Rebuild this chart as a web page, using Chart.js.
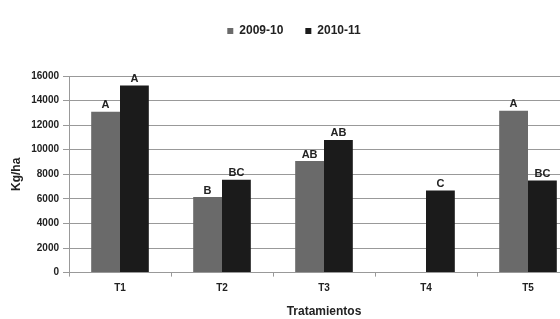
<!DOCTYPE html>
<html>
<head>
<meta charset="utf-8">
<script src="https://cdn.jsdelivr.net/npm/chart.js@4/dist/chart.umd.min.js"></script>
<style>
  html, body { margin: 0; padding: 0; background: #fff; overflow: hidden; }
  #wrap { width: 580px; height: 319px; }
</style>
</head>
<body>
<div id="wrap"><canvas id="chart" width="580" height="319"></canvas></div>
<script>
const categories = ["T1", "T2", "T3", "T4", "T5"]
const season2009 = [13100, 6150, 9080, null, 13180]
const season2010 = [15230, 7550, 10800, 6680, 7500]
const letters2009 = ["A", "B", "AB", "", "A"]
const letters2010 = ["A", "BC", "AB", "C", "BC"]
const yTicks = [0, 2000, 4000, 6000, 8000, 10000, 12000, 14000, 16000]

const FONT = "'Liberation Sans', Arial, sans-serif"

// push the plot down below the legend, like the original
const legendGap = {
  id: "legendGap",
  beforeInit(chart) {
    const fit = chart.legend.fit
    chart.legend.fit = function () {
      fit.bind(chart.legend)()
      this.height += 29
    }
  }
}

const letterLabels = {
  id: "letterLabels",
  afterDatasetsDraw(chart) {
    const ctx = chart.ctx
    const sets = [letters2009, letters2010]
    ctx.save()
    ctx.font = "bold 11px " + FONT
    ctx.fillStyle = "#222"
    ctx.textAlign = "center"
    ctx.textBaseline = "bottom"
    chart.data.datasets.forEach((ds, i) => {
      const meta = chart.getDatasetMeta(i)
      meta.data.forEach((bar, j) => {
        if (ds.data[j] == null || !sets[i][j]) return
        ctx.fillText(sets[i][j], bar.x, bar.y - 1)
      })
    })
    ctx.restore()
  }
}

new Chart(document.getElementById("chart"), {
  type: "bar",
  data: {
    labels: categories,
    datasets: [
      {
        label: "2009-10",
        data: season2009,
        backgroundColor: "#6a6a6a",
        barPercentage: 1,
        categoryPercentage: 0.565,
      },
      {
        label: "2010-11",
        data: season2010,
        backgroundColor: "#1b1b1b",
        barPercentage: 1,
        categoryPercentage: 0.565,
      },
    ],
  },
  options: {
    responsive: false,
    animation: false,
    layout: { padding: { top: 3, right: 1, left: 9, bottom: 0 } },
    plugins: {
      legend: {
        position: "top",
        labels: {
          boxWidth: 6,
          boxHeight: 6,
          padding: 22,
          color: "#222",
          font: { family: FONT, size: 12, weight: "bold" },
        },
      },
      tooltip: { enabled: false },
    },
    scales: {
      x: {
        grid: {
          offset: true,
          drawOnChartArea: false,
          drawTicks: true,
          tickLength: 4,
          color: "#999",
        },
        border: { color: "#999" },
        ticks: {
          color: "#222",
          padding: 6,
          font: { family: FONT, size: 10, weight: "bold" },
        },
        title: {
          display: true,
          text: "Tratamientos",
          color: "#222",
          padding: { top: 4, bottom: 0 },
          font: { family: FONT, size: 12, weight: "bold" },
        },
      },
      y: {
        min: 0,
        max: 16000,
        afterBuildTicks(scale) {
          scale.ticks = yTicks.map(v => ({ value: v }))
        },
        afterFit(scale) {
          scale.width = 60
        },
        grid: { color: "#999", tickLength: 6 },
        border: { color: "#999" },
        ticks: {
          color: "#222",
          padding: 4,
          callback: v => String(v),
          font: { family: FONT, size: 10, weight: "bold" },
        },
        title: {
          display: true,
          text: "Kg/ha",
          color: "#222",
          padding: { top: 0, bottom: 4 },
          font: { family: FONT, size: 12, weight: "bold" },
        },
      },
    },
  },
  plugins: [letterLabels, legendGap],
})
</script>
</body>
</html>
